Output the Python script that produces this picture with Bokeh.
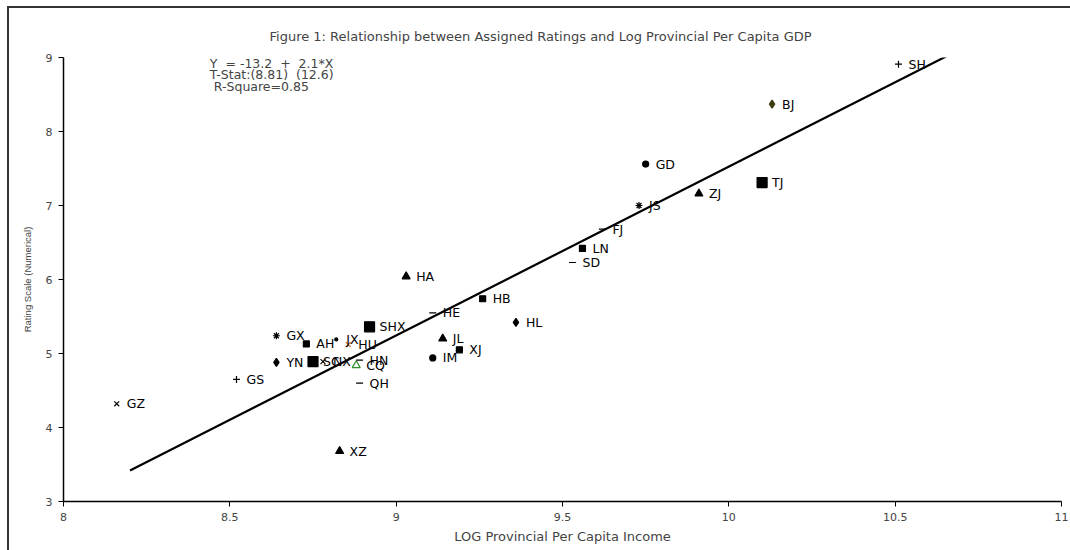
from bokeh.plotting import figure
from bokeh.layouts import column
from bokeh.models import ColumnDataSource, Label, FixedTicker
from bokeh.embed import file_html
from bokeh.resources import INLINE
from bokeh.core.properties import value

# ---- data ----
codes = ["SH", "BJ", "TJ", "ZJ", "GD", "JS", "FJ", "LN", "SD", "HA", "HB", "HE",
         "HL", "JL", "XJ", "IM", "GX", "SHX", "AH", "JX", "HU", "YN", "SC", "NX",
         "CQ", "HN", "QH", "GS", "GZ", "XZ"]
log_income = [10.51, 10.13, 10.10, 9.91, 9.75, 9.73, 9.62, 9.56, 9.53, 9.03, 9.26, 9.11,
              9.36, 9.14, 9.19, 9.11, 8.64, 8.92, 8.73, 8.82, 8.856, 8.64, 8.75, 8.78,
              8.88, 8.89, 8.89, 8.52, 8.16, 8.83]
rating = [8.91, 8.37, 7.31, 7.16, 7.56, 7.00, 6.68, 6.42, 6.23, 6.04, 5.74, 5.55,
          5.42, 5.20, 5.05, 4.94, 5.24, 5.36, 5.13, 5.19, 5.12, 4.88, 4.89, 4.89,
          4.84, 4.91, 4.60, 4.65, 4.32, 3.68]
fit_x = [8.20, 10.66]
fit_y = [3.42, 9.03]
x_ticks = [8, 8.5, 9, 9.5, 10, 10.5, 11]
y_ticks = [3, 4, 5, 6, 7, 8, 9]
title_text = "Figure 1: Relationship between Assigned Ratings and Log Provincial Per Capita GDP"
eq_lines = ["Y  = -13.2  +  2.1*X", "T-Stat:(8.81)  (12.6)", " R-Square=0.85"]
x_label = "LOG Provincial Per Capita Income"
y_label = "Rating Scale (Numerical)"

# ---- styles (marker per province) ----
style = {
    "SH": ("cross", 7, "black", "black"),
    "BJ": ("diamond", 8, "#3d3d10", "#3d3d10"),
    "TJ": ("square", 10, "black", "black"),
    "ZJ": ("triangle", 8, "black", "black"),
    "GD": ("circle", 6, "black", "black"),
    "JS": ("asterisk", 7, "black", "black"),
    "FJ": ("dash", 7, "black", "black"),
    "LN": ("square", 6, "black", "black"),
    "SD": ("dash", 7, "black", "black"),
    "HA": ("triangle", 8, "black", "black"),
    "HB": ("square", 6, "black", "black"),
    "HE": ("dash", 7, "black", "black"),
    "HL": ("diamond", 8, "black", "black"),
    "JL": ("triangle", 8, "black", "black"),
    "XJ": ("square", 6, "black", "black"),
    "IM": ("circle", 6, "black", "black"),
    "GX": ("asterisk", 7, "black", "black"),
    "SHX": ("square", 10, "black", "black"),
    "AH": ("square", 6, "black", "black"),
    "JX": ("circle", 3, "black", "black"),
    "HU": ("x", 7, "#cc6a1a", "#cc6a1a"),
    "YN": ("diamond", 8, "black", "black"),
    "SC": ("square", 10, "black", "black"),
    "NX": ("x", 7, "black", "black"),
    "CQ": ("triangle", 8, "#2e8b2e", "white"),
    "HN": ("dash", 7, "black", "black"),
    "QH": ("dash", 7, "black", "black"),
    "GS": ("cross", 7, "black", "black"),
    "GZ": ("x", 7, "black", "black"),
    "XZ": ("triangle", 8, "black", "black"),
}

src = ColumnDataSource(dict(
    x=log_income, y=rating, code=codes,
    marker=[style[c][0] for c in codes],
    size=[style[c][1] for c in codes],
    lc=[style[c][2] for c in codes],
    fc=[style[c][3] for c in codes],
))

FONT = "DejaVu Sans"

p = figure(width=1061, height=542, x_range=(8, 11), y_range=(3, 9),
           output_backend="svg", toolbar_location=None,
           min_border_left=54, min_border_right=9, min_border_top=49, min_border_bottom=49)
p.outline_line_color = None
p.grid.visible = False
p.background_fill_color = "white"
p.border_fill_color = "white"

p.title.text = title_text
p.title.align = "left"
p.title.offset = 206
p.title.standoff = 23
p.title.vertical_align = "top"
p.title.text_font = FONT
p.title.text_font_size = "13px"
p.title.text_font_style = "normal"

for ax in (p.xaxis[0], p.yaxis[0]):
    ax.axis_line_color = "black"
    ax.axis_line_width = 1.5
    ax.major_tick_line_color = "black"
    ax.major_tick_line_width = 1
    ax.major_tick_in = 0
    ax.major_tick_out = 5
    ax.minor_tick_line_color = None
    ax.major_label_text_font = FONT
    ax.major_label_text_font_size = "11px"
    ax.axis_label_text_font = FONT
    ax.axis_label_text_font_style = "normal"

p.xaxis.ticker = FixedTicker(ticks=x_ticks)
p.yaxis.ticker = FixedTicker(ticks=y_ticks)
p.xaxis.axis_label = x_label
p.xaxis.axis_label_text_font_size = "13px"
p.xaxis.axis_label_standoff = 5
p.xaxis.major_label_standoff = 6
p.yaxis.axis_label = y_label
p.yaxis.axis_label_text_font = "Liberation Sans"
p.yaxis.axis_label_text_font_size = "9.5px"
p.yaxis.axis_label_standoff = 10
p.yaxis.major_label_standoff = 6

p.line(fit_x, fit_y, line_color="black", line_width=2.2)

p.scatter(x="x", y="y", marker="marker", size="size", line_color="lc",
          fill_color="fc", line_width=1.2, source=src)

p.text(x="x", y="y", text="code", source=src, x_offset=10,
       text_font=value(FONT), text_font_size="12.5px", text_baseline="middle",
       text_color="black")

for i, t in enumerate(eq_lines):
    p.add_layout(Label(x=8.44, y=8.923 - i * 0.155, text=t.replace(" ", "\u00a0"),
                       text_font=FONT, text_font_size="12.5px", text_baseline="middle"))

layout = column(p)
layout.styles = {"transform": "translate(7px, 6px)",
                 "border-left": "2px solid #333", "border-top": "2px solid #333"}

open("out.html", "w").write(file_html(layout, INLINE))
